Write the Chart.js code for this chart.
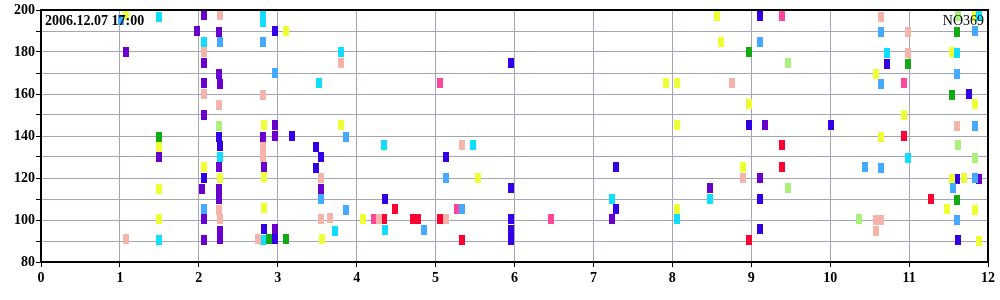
<!DOCTYPE html>
<html><head><meta charset="utf-8">
<script src="https://cdn.jsdelivr.net/npm/chart.js@4"></script>
<style>html,body{margin:0;padding:0;background:#fff}#c{display:block}</style>
</head><body>
<canvas id="c" width="1000" height="300"></canvas>
<script>
// ---- data ----
const titleLeft = '2006.12.07 17:00';
const titleRight = 'NO369';
const xMin = 0, xMax = 12, xStep = 1;
const yMin = 80, yMax = 200, yStep = 10, yLabelEvery = 20;

const purplePts = [[1.08,180],[2.06,197.5],[1.98,190],[2.26,189.6],[2.06,175],[2.26,169.6],[2.06,165.4],[2.27,165],[2.06,150],[2.96,145.4],[2.81,139.7],[2.96,140.2],[1.49,129.8],[2.26,125.2],[2.82,125.4],[2.04,115],[2.26,115],[3.55,115],[2.26,109.8],[2.06,100.6],[2.27,95],[2.96,95.5],[2.06,90.6],[2.27,90.8],[7.23,100.6],[8.48,115.3],[9.11,120.1],[9.18,145.4],[11.89,119.7]];
const bluePts = [[2.96,190],[2.26,139.7],[3.18,140.2],[2.27,135.2],[3.49,135],[3.55,129.8],[3.49,125],[2.06,120.2],[2.82,95.5],[2.96,90.8],[5.96,174.9],[5.13,130.1],[5.96,115.3],[4.36,109.9],[5.96,100.6],[5.96,95.4],[5.96,90.6],[9.11,197.3],[8.97,145.4],[7.29,125.4],[9.11,110.1],[7.29,105.4],[9.11,95.6],[10.72,174.4],[11.76,160.1],[10.01,145.4],[11.61,119.7],[11.62,90.6]];
const cyanPts = [[1.49,196.8],[2.81,198.5],[2.81,194.5],[2.06,185],[3.52,165.4],[2.27,130.1],[1.49,90.3],[2.81,90.3],[3.73,95],[3.80,180.1],[4.35,135.6],[5.48,135.6],[4.36,95.1],[7.23,110.1],[8.48,110.1],[8.06,100.6],[11.89,197],[10.72,179.7],[11.61,179.7],[10.99,129.7]];
const lightBluePts = [[1.01,195.4],[2.27,185],[2.81,184.6],[2.96,170],[3.55,109.8],[2.06,105.4],[3.87,139.7],[5.13,120.1],[5.34,105.4],[3.87,104.9],[4.85,95.4],[9.11,184.9],[10.64,189.7],[11.84,190.1],[11.61,169.7],[10.64,164.9],[11.83,144.9],[10.44,125.4],[10.64,124.9],[11.84,120.1],[11.56,115.1],[11.61,100.1]];
const salmonPts = [[2.27,197.5],[2.06,180],[2.06,160],[2.81,159.7],[2.26,155],[2.81,135],[2.81,129.8],[3.55,119.8],[2.26,105],[2.27,100.6],[3.55,100.3],[3.66,100.8],[1.08,90.8],[2.75,90.8],[3.80,174.9],[5.34,135.6],[4.28,100.6],[5.13,100.6],[8.76,165.4],[8.90,120.1],[10.64,196.8],[10.99,189.7],[10.99,179.7],[11.61,144.9],[10.58,100.1],[10.64,100.1],[10.58,94.9]];
const yellowPts = [[1.08,197.5],[3.10,190],[2.82,145.4],[1.49,135],[2.06,125.4],[2.27,119.9],[2.82,120.3],[1.49,115],[2.82,105.5],[1.49,100.6],[3.56,90.8],[3.80,145.4],[4.08,100.6],[5.54,120.1],[8.56,197.3],[8.62,184.9],[7.92,165.4],[8.06,165.4],[8.97,155.4],[8.06,145.4],[8.90,125.4],[8.06,105.4],[11.83,197],[11.55,180.1],[10.58,169.7],[11.84,155.4],[10.93,150.1],[10.64,139.7],[11.55,119.7],[11.70,120.1],[11.48,105.4],[11.83,104.9],[11.89,90.1]];
const greenPts = [[1.49,139.7],[2.89,90.8],[3.10,90.8],[8.97,180.1],[11.61,189.7],[10.99,174.4],[11.55,159.7],[11.61,109.7]];
const lightGreenPts = [[2.26,145],[9.46,174.9],[9.46,115.3],[11.62,197.3],[11.62,135.6],[11.83,129.7],[10.37,100.6]];
const pinkPts = [[5.06,165.4],[4.22,100.6],[5.27,105.4],[6.46,100.6],[9.39,197.3],[10.93,165.4]];
const redPts = [[4.49,105.4],[4.35,100.6],[4.71,100.6],[4.78,100.6],[5.05,100.6],[5.34,90.6],[9.39,135.6],[9.39,125.4],[8.97,90.6],[11.28,110.1],[10.93,140.2]];

// ---- styles ----
const series = [
  {pts: salmonPts, color: '#f5b4aa'},
  {pts: lightBluePts, color: '#44aaff'},
  {pts: cyanPts, color: '#11ddff'},
  {pts: yellowPts, color: '#eeff33'},
  {pts: lightGreenPts, color: '#aaf07a'},
  {pts: greenPts, color: '#11aa11'},
  {pts: pinkPts, color: '#ff4499'},
  {pts: redPts, color: '#ff0033'},
  {pts: purplePts, color: '#6a00cc'},
  {pts: bluePts, color: '#3300e6'}
];

function marker(color){
  const c = document.createElement('canvas');
  c.width = 6; c.height = 10;
  const g = c.getContext('2d');
  g.fillStyle = color; g.fillRect(0,0,6,10);
  return c;
}

const textPlugin = {
  id: 'texts',
  afterDatasetsDraw(chart){
    const {ctx, chartArea:a} = chart;
    ctx.save();
    ctx.strokeStyle = '#000';
    ctx.lineWidth = 2;
    ctx.beginPath();
    ctx.moveTo(a.left, a.top); ctx.lineTo(a.right, a.top); ctx.lineTo(a.right, a.bottom);
    ctx.stroke();
    ctx.fillStyle = '#000';
    ctx.textBaseline = 'alphabetic';
    ctx.font = 'bold 14px "Liberation Serif"';
    ctx.textAlign = 'left';
    ctx.fillText(titleLeft, a.left + 4, a.top + 15);
    ctx.font = '14px "Liberation Serif"';
    ctx.textAlign = 'right';
    ctx.fillText(titleRight, a.right - 4, a.top + 15);
    ctx.restore();
  }
};

const tickFont = {family: '"Liberation Serif"', weight: 'bold', size: 14};

new Chart(document.getElementById('c'), {
  type: 'scatter',
  data: {
    datasets: series.map(s => ({
      data: s.pts.map(p => ({x: p[0], y: p[1]})),
      pointStyle: marker(s.color),
      backgroundColor: s.color,
      borderColor: s.color,
      clip: 0
    }))
  },
  options: {
    responsive: false,
    animation: false,
    events: [],
    layout: {padding: {top: 10, right: 12, left: 0, bottom: 0}},
    plugins: {legend: {display: false}, tooltip: {enabled: false}},
    scales: {
      x: {
        type: 'linear', min: xMin, max: xMax,
        ticks: {stepSize: xStep, font: tickFont, color: '#000', padding: 3, maxRotation: 0},
        grid: {color: '#a3a6b4', lineWidth: 1, tickColor: '#000', tickLength: 5},
        border: {color: '#000', width: 2},
        afterFit: s => { s.height = 38; }
      },
      y: {
        type: 'linear', min: yMin, max: yMax,
        ticks: {stepSize: yStep, font: tickFont, color: '#000', padding: 1,
          autoSkip: false,
          callback: v => (v % yLabelEvery === 0 ? String(v) : '')},
        grid: {color: '#a3a6b4', lineWidth: 1, tickColor: '#000', tickLength: 5},
        border: {color: '#000', width: 2},
        afterFit: s => { s.width = 41; }
      }
    }
  },
  plugins: [textPlugin]
});
</script>
</body></html>
